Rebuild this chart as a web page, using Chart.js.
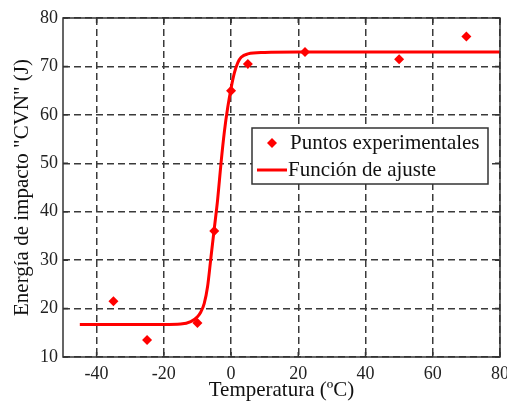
<!DOCTYPE html>
<html>
<head>
<meta charset="utf-8">
<script src="https://cdn.jsdelivr.net/npm/chart.js@4/dist/chart.umd.min.js"></script>
<style>
    html, body { margin: 0; padding: 0; background: #fff; }
    #wrap { width: 507px; height: 403px; }
</style>
</head>
<body>
<div id="wrap"><canvas id="chart-cvn"></canvas></div>
<script>
// datos
var puntosT = [-35, -25, -10, -5, 0, 5, 22, 50, 70];
var puntosE = [21.5, 13.5, 17, 36, 65, 70.5, 73, 71.5, 76.2];

var ajusteT = [-45, -20, -15, -12, -10, -9, -8, -7, -6, -5, -4, -3, -2, -1, 0, 1, 2, 3, 5, 10, 20, 80];
var ajusteE = [16.7, 16.7, 16.8, 17.3, 18.3, 19.3, 21, 24.5, 30.5, 36.5, 42.5, 50, 56.5, 61.5, 65.5, 68.7, 70.8, 71.9, 72.6, 72.9, 73, 73];

var xTicks = [-40, -20, 0, 20, 40, 60, 80];
var yTicks = [10, 20, 30, 40, 50, 60, 70, 80];

var serif = "Liberation Serif";
var ink = "#333";

function pares(xs, ys) {
    return xs.map(function(x, i) { return { x: x, y: ys[i] }; });
}

// caja, marcas de los ejes y leyenda al estilo matlab
var cajaPlugin = {
    id: 'caja',
    afterDraw: function(chart) {
        var c = chart.ctx, a = chart.chartArea;
        var sx = chart.scales.x, sy = chart.scales.y;
        c.save();
        c.strokeStyle = ink;
        c.lineWidth = 1.5;
        c.setLineDash([]);
        c.beginPath();
        xTicks.forEach(function(v) {
            var px = sx.getPixelForValue(v);
            c.moveTo(px, a.bottom); c.lineTo(px, a.bottom - 5);
            c.moveTo(px, a.top); c.lineTo(px, a.top + 5);
        });
        yTicks.forEach(function(v) {
            var py = sy.getPixelForValue(v);
            c.moveTo(a.left, py); c.lineTo(a.left + 5, py);
            c.moveTo(a.right, py); c.lineTo(a.right - 5, py);
        });
        c.stroke();
        c.strokeRect(a.left, a.top, a.right - a.left, a.bottom - a.top);

        // leyenda
        var lx = a.right - 248, ly = a.top + 110, lw = 236, lh = 56;
        c.fillStyle = '#fff';
        c.fillRect(lx, ly, lw, lh);
        c.strokeRect(lx, ly, lw, lh);
        var ds = chart.data.datasets;
        c.fillStyle = ds[0].backgroundColor;
        c.beginPath();
        c.moveTo(lx + 20, ly + 10);
        c.lineTo(lx + 25, ly + 15);
        c.lineTo(lx + 20, ly + 20);
        c.lineTo(lx + 15, ly + 15);
        c.closePath();
        c.fill();
        c.strokeStyle = ds[1].borderColor;
        c.lineWidth = 3;
        c.beginPath();
        c.moveTo(lx + 5, ly + 42);
        c.lineTo(lx + 35, ly + 42);
        c.stroke();
        c.fillStyle = '#111';
        c.font = '21px "' + serif + '"';
        c.textBaseline = 'middle';
        c.fillText(ds[0].label, lx + 38, ly + 15);
        c.fillText(ds[1].label, lx + 36, ly + 42);
        c.restore();
    }
};

var ctx = document.getElementById("chart-cvn").getContext("2d");

new Chart(ctx, {
    type: "scatter",
    plugins: [cajaPlugin],
    data: {
        datasets: [{
                label: "Puntos experimentales",
                data: pares(puntosT, puntosE),
                pointStyle: 'rectRot',
                pointRadius: 5,
                pointHoverRadius: 5,
                backgroundColor: "#ff0000",
                borderColor: "#ff0000",
                borderWidth: 0,
                order: 0
            },
            {
                label: "Función de ajuste",
                data: pares(ajusteT, ajusteE),
                showLine: true,
                pointRadius: 0,
                borderColor: "#ff0000",
                backgroundColor: "#ff0000",
                borderWidth: 3,
                cubicInterpolationMode: 'monotone',
                order: 1
            },
        ],
    },
    options: {
        responsive: true,
        maintainAspectRatio: false,
        animation: false,
        layout: {
            padding: { top: 18, right: 7, left: 0, bottom: 0 }
        },
        plugins: {
            legend: { display: false },
            tooltip: { enabled: false }
        },
        scales: {
            x: {
                type: 'linear',
                min: -50,
                max: 80,
                afterBuildTicks: function(scale) {
                    scale.ticks = xTicks.map(function(v) { return { value: v }; });
                },
                afterFit: function(scale) {
                    scale.height = 46;
                    scale.paddingLeft = 0;
                    scale.paddingRight = 0;
                },
                grid: {
                    color: "#3a3a3a",
                    lineWidth: 1.5,
                    drawTicks: false
                },
                border: { display: false, dash: [7, 4] },
                ticks: {
                    padding: 6,
                    color: "#222",
                    maxRotation: 0,
                    font: { family: serif, size: 18 }
                },
                title: {
                    display: true,
                    text: "Temperatura (ºC)",
                    color: "#111",
                    padding: { top: 0, bottom: 0 },
                    font: { family: serif, size: 21 }
                }
            },
            y: {
                min: 10,
                max: 80,
                afterBuildTicks: function(scale) {
                    scale.ticks = yTicks.map(function(v) { return { value: v }; });
                },
                afterFit: function(scale) { scale.width = 63; },
                grid: {
                    color: "#3a3a3a",
                    lineWidth: 1.5,
                    drawTicks: false
                },
                border: { display: false, dash: [7, 4] },
                ticks: {
                    padding: 5,
                    color: "#222",
                    font: { family: serif, size: 18 }
                },
                title: {
                    display: true,
                    text: "Energía de impacto \"CVN\" (J)",
                    color: "#111",
                    padding: { top: 10, bottom: 0 },
                    font: { family: serif, size: 21 }
                }
            },
        },
    },
});
</script>
</body>
</html>
